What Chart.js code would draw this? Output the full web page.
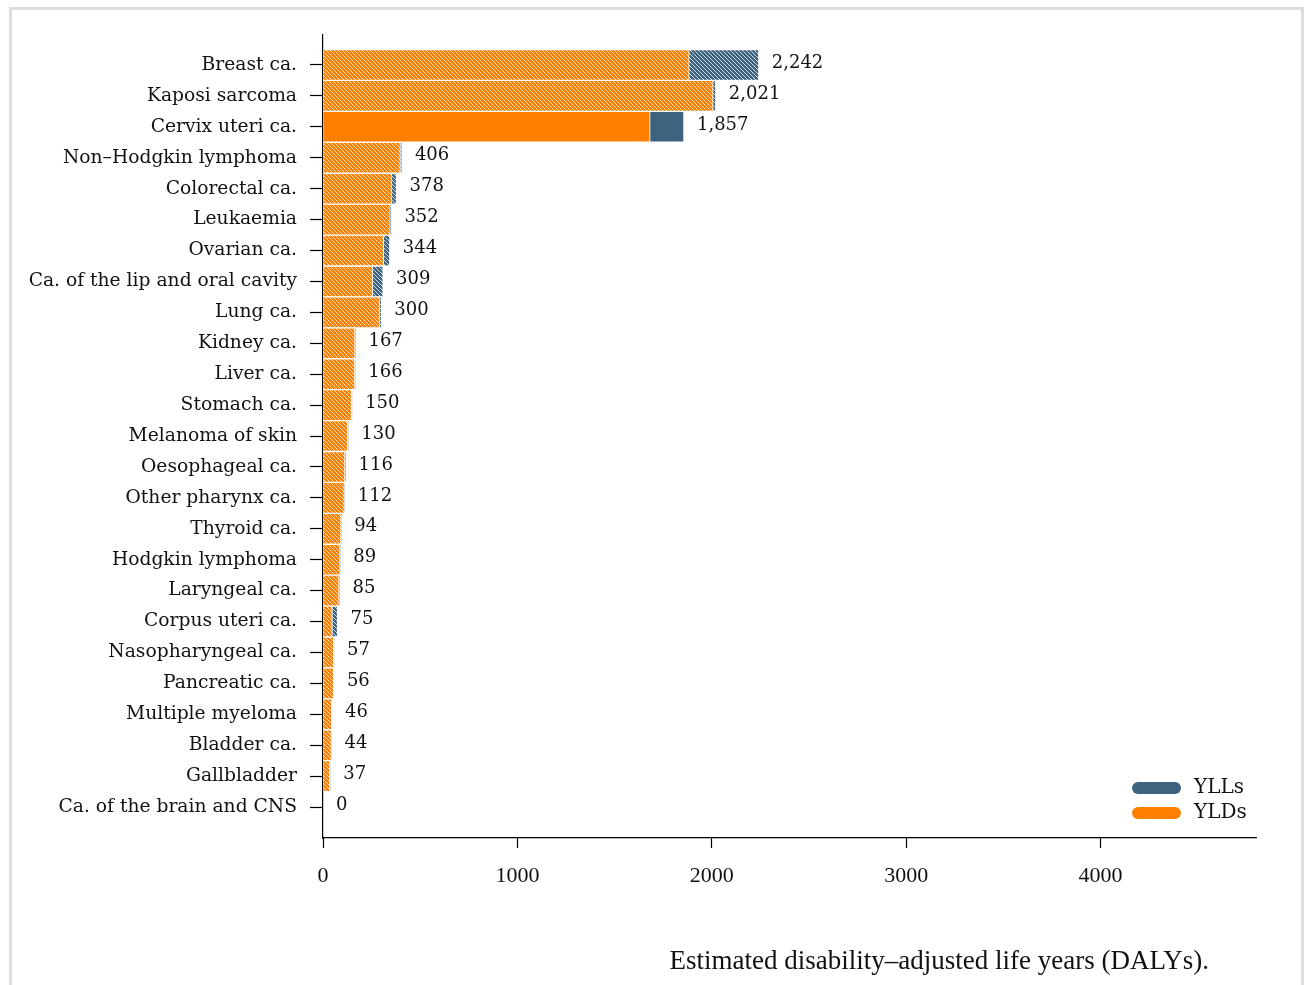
<!DOCTYPE html>
<html>
<head>
<meta charset="utf-8">
<script src="https://cdn.jsdelivr.net/npm/chart.js@4.4.1/dist/chart.umd.min.js"></script>
<style>
  html, body { margin: 0; padding: 0; background: #fff; overflow: hidden; }
  #frame { position: absolute; left: 9px; top: 7px; width: 1295px; height: 1000px; border: 3px solid #dedede; box-sizing: border-box; }
  #myChart { position: absolute; left: 0; top: 0; }
</style>
</head>
<body>
<div id="frame"></div>
<canvas id="myChart" width="1304" height="985"></canvas>
<script>
// cancer types, top to bottom
var categories = [
  "Breast ca.", "Kaposi sarcoma", "Cervix uteri ca.", "Non–Hodgkin lymphoma",
  "Colorectal ca.", "Leukaemia", "Ovarian ca.", "Ca. of the lip and oral cavity",
  "Lung ca.", "Kidney ca.", "Liver ca.", "Stomach ca.", "Melanoma of skin",
  "Oesophageal ca.", "Other pharynx ca.", "Thyroid ca.", "Hodgkin lymphoma",
  "Laryngeal ca.", "Corpus uteri ca.", "Nasopharyngeal ca.", "Pancreatic ca.",
  "Multiple myeloma", "Bladder ca.", "Gallbladder", "Ca. of the brain and CNS"
];
// years lived with disability
var ylds = [1884, 2007, 1683, 398, 355, 346, 312, 256, 293, 165, 164, 147, 128,
            113, 110, 93, 88, 83, 48, 56, 55, 45, 43, 36, 0];
// years of life lost
var ylls = [358, 14, 174, 8, 23, 6, 32, 53, 7, 2, 2, 3, 2,
            3, 2, 1, 1, 2, 27, 1, 1, 1, 1, 1, 0];
var xTicks = [0, 1000, 2000, 3000, 4000];
var highlighted = "Cervix uteri ca.";

var orange = "#ff8000";
var blue = "#3e637e";
var textColor = "#111";
var serif = "'DejaVu Serif', 'Liberation Serif', serif";
var narrow = "'Liberation Serif', serif";

// diagonal hatch fill
function hatch(color) {
  var c = document.createElement("canvas");
  c.width = 4; c.height = 4;
  var g = c.getContext("2d");
  g.fillStyle = color;
  g.fillRect(0, 0, 4, 4);
  g.strokeStyle = "rgba(255,255,255,0.85)";
  g.lineWidth = 0.9;
  for (var k = -1; k <= 1; k++) {
    g.beginPath();
    g.moveTo(k * 4, 0);
    g.lineTo(k * 4 + 4, 4);
    g.stroke();
  }
  return g.createPattern(c, "repeat");
}
var orangeHatch = hatch(orange);
var blueHatch = hatch(blue);

var yldColors = [], yllColors = [];
for (i = 0; i < categories.length; i++) {
  var solid = categories[i] === highlighted;
  yldColors.push(solid ? orange : orangeHatch);
  yllColors.push(solid ? blue : blueHatch);
}

// total value at bar end
var valueLabels = {
  id: "valueLabels",
  afterDatasetsDraw: function (chart) {
    var ctx = chart.ctx;
    var meta = chart.getDatasetMeta(1);
    ctx.save();
    ctx.font = "18px " + serif;
    ctx.fillStyle = textColor;
    ctx.textAlign = "left";
    ctx.textBaseline = "middle";
    for (var i = 0; i < categories.length; i++) {
      var el = meta.data[i];
      var total = ylds[i] + ylls[i];
      ctx.fillText(total.toLocaleString("en-US"), el.x + 13, el.y - 2);
    }
    ctx.restore();
  }
};

// legend in lower right + x axis title
var extras = {
  id: "extras",
  afterDraw: function (chart) {
    var ctx = chart.ctx, a = chart.chartArea;
    var items = chart.data.datasets.slice().reverse();
    ctx.save();
    ctx.font = "20px " + serif;
    ctx.textBaseline = "middle";
    items.forEach(function (ds, k) {
      var y = a.bottom - 50 + k * 25;
      var x = a.right - 124;
      ctx.fillStyle = ds.legendColor;
      ctx.beginPath();
      ctx.roundRect(x, y - 6, 49, 12, 6);
      ctx.fill();
      ctx.fillStyle = textColor;
      ctx.fillText(ds.label, x + 62, y);
    });
    ctx.font = "27px " + narrow;
    ctx.textAlign = "right";
    ctx.textBaseline = "alphabetic";
    ctx.fillText("Estimated disability–adjusted life years (DALYs).", a.right - 47, 969);
    ctx.restore();
  }
};

var ctx = document.getElementById("myChart").getContext("2d");
var myChart = new Chart(ctx, {
  type: "bar",
  data: {
    datasets: [
      {
        label: "YLDs",
        data: ylds.map(function (v, i) { return { x: v, y: i }; }),
        backgroundColor: yldColors,
        legendColor: orange,
        borderColor: "#fff",
        borderWidth: 1,
      },
      {
        label: "YLLs",
        data: ylls.map(function (v, i) { return { x: v, y: i }; }),
        backgroundColor: yllColors,
        legendColor: blue,
        borderColor: "#fff",
        borderWidth: 1,
      },
    ],
  },
  options: {
    indexAxis: "y",
    responsive: false,
    animation: false,
    barPercentage: 1,
    categoryPercentage: 1,
    layout: { padding: { top: 35, right: 48, left: 0, bottom: 0 } },
    plugins: {
      legend: { display: false },
      tooltip: { enabled: false },
    },
    scales: {
      x: {
        type: "linear",
        stacked: true,
        min: 0,
        max: 4800,
        afterBuildTicks: function (s) {
          s.ticks = xTicks.map(function (v) { return { value: v }; });
        },
        afterFit: function (s) { s.height = 147; },
        border: { display: true, color: "#000", width: 1.2 },
        grid: { display: true, drawOnChartArea: false, drawTicks: true, tickLength: 10, tickColor: "#000", tickWidth: 1.2 },
        ticks: {
          color: textColor,
          font: { family: narrow, size: 22 },
          padding: 15,
          maxRotation: 0,
          callback: function (v) { return String(v); },
        },
      },
      y: {
        type: "linear",
        stacked: true,
        reverse: true,
        offset: false,
        min: -0.97,
        max: 25,
        afterBuildTicks: function (s) {
          s.ticks = categories.map(function (c, i) { return { value: i }; });
        },
        afterFit: function (s) { s.width = 323; },
        border: { display: true, color: "#000", width: 1.2 },
        grid: { display: true, offset: false, drawOnChartArea: false, drawTicks: true, tickLength: 13, tickColor: "#000", tickWidth: 1.2 },
        ticks: {
          color: textColor,
          font: { family: serif, size: 18.7 },
          padding: 13,
          autoSkip: false,
          callback: function (v) { return categories[v]; },
        },
      },
    },
  },
  plugins: [valueLabels, extras],
});
</script>
</body>
</html>
